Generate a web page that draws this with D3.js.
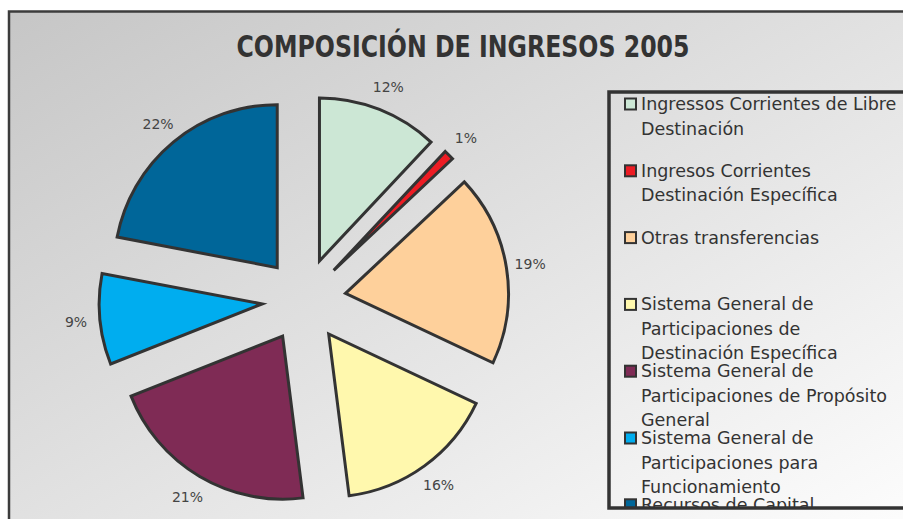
<!DOCTYPE html>
<html>
<head>
<meta charset="utf-8">
<script src="https://cdn.jsdelivr.net/npm/d3@7"></script>
<style>
  body { margin: 0; background: #fff; }
  svg { display: block; }
</style>
</head>
<body>
<div id="chart"></div>
<script>

// Chart data
const categories = [
    'Ingressos Corrientes de Libre Destinación',
    'Ingresos Corrientes Destinación Específica',
    'Otras transferencias',
    'Sistema General de Participaciones de Destinación Específica',
    'Sistema General de Participaciones de Propósito General',
    'Sistema General de Participaciones para Funcionamiento',
    'Recursos de Capital'
]
const values = [12, 1, 19, 16, 21, 9, 22]
const colors = ['#cce7d5', '#ed1c24', '#fed09b', '#fff8ad', '#7f2b55', '#00adef', '#006699']
const title = 'COMPOSICIÓN DE INGRESOS 2005'

const data = categories.map((c, i) => ({name: c, value: values[i], color: colors[i]}))

function drawPie(target_id) {

    const width = 903, height = 519
    const cx = 304, cy = 300
    const radius = 163
    const explode = 42
    const labelRadius = 229

    var svg = d3.select(target_id)
        .append("svg")
        .attr("width", width)
        .attr("height", height)

    // background gradient
    var defs = svg.append("defs")
    var grad = defs.append("linearGradient")
        .attr("id", "bg")
        .attr("x1", 0).attr("y1", 0)
        .attr("x2", 1).attr("y2", 1)
    grad.append("stop").attr("offset", "0%").attr("stop-color", "#c6c6c6")
    grad.append("stop").attr("offset", "100%").attr("stop-color", "#ffffff")

    defs.append("clipPath").attr("id", "legclip")
        .append("rect")
        .attr("x", 610).attr("y", 93)
        .attr("width", 300).attr("height", 414)

    svg.append("rect")
        .attr("x", 9).attr("y", 11.5)
        .attr("width", 930).attr("height", 540)
        .attr("fill", "url(#bg)")
        .attr("stroke", "#3c3c3c")
        .attr("stroke-width", 2.5)

    // title (squeezed to the width of the condensed original)
    svg.append("text")
        .attr("x", 463)
        .attr("y", 57)
        .attr("text-anchor", "middle")
        .attr("font-family", "'DejaVu Sans', sans-serif")
        .attr("font-weight", "bold")
        .attr("font-size", 30)
        .attr("textLength", 453)
        .attr("lengthAdjust", "spacingAndGlyphs")
        .attr("fill", "#333")
        .text(title)

    // pie
    var pie = d3.pie().sort(null).value(d => d.value)
    var arc = d3.arc().innerRadius(0).outerRadius(radius)
    var arcs = pie(data)

    var g = svg.append("g").attr("transform", `translate(${cx},${cy})`)

    g.selectAll("path")
        .data(arcs)
        .enter()
        .append("path")
        .attr("d", arc)
        .attr("transform", d => {
            const a = (d.startAngle + d.endAngle) / 2
            return `translate(${Math.sin(a) * explode},${-Math.cos(a) * explode})`
        })
        .attr("fill", d => d.data.color)
        .attr("stroke", "#333")
        .attr("stroke-width", 3)
        .attr("stroke-linejoin", "miter")

    g.selectAll("text.lbl")
        .data(arcs)
        .enter()
        .append("text")
        .attr("class", "lbl")
        .attr("x", d => Math.sin((d.startAngle + d.endAngle) / 2) * labelRadius)
        .attr("y", d => -Math.cos((d.startAngle + d.endAngle) / 2) * labelRadius)
        .attr("text-anchor", "middle")
        .attr("dominant-baseline", "central")
        .attr("font-family", "'DejaVu Sans', sans-serif")
        .attr("font-size", 14)
        .attr("fill", "#444")
        .text(d => d.data.value + "%")

    // legend
    var leg = svg.append("g").attr("clip-path", "url(#legclip)")
    const legTop = 98.5, legStep = 66.8, lineH = 24.5, maxW = 258

    data.forEach((d, i) => {
        const y0 = legTop + i * legStep
        leg.append("rect")
            .attr("x", 625).attr("y", y0)
            .attr("width", 11).attr("height", 11)
            .attr("fill", d.color)
            .attr("stroke", "#333")
            .attr("stroke-width", 2)

        var t = leg.append("text")
            .attr("font-family", "'DejaVu Sans', sans-serif")
            .attr("font-size", 17.5)
            .attr("fill", "#333")

        // simple word wrap
        var words = d.name.split(" ")
        var line = []
        var n = 0
        var tspan = t.append("tspan").attr("x", 641).attr("y", y0 + 11.5)
        words.forEach(w => {
            line.push(w)
            tspan.text(line.join(" "))
            if (tspan.node().getComputedTextLength() > maxW && line.length > 1) {
                line.pop()
                tspan.text(line.join(" "))
                line = [w]
                n++
                tspan = t.append("tspan").attr("x", 641).attr("y", y0 + 11.5 + n * lineH).text(w)
            }
        })
    })

    svg.append("rect")
        .attr("x", 609).attr("y", 92)
        .attr("width", 320).attr("height", 416)
        .attr("fill", "none")
        .attr("stroke", "#333")
        .attr("stroke-width", 3.5)
}

drawPie("#chart")
</script>
</body>
</html>
